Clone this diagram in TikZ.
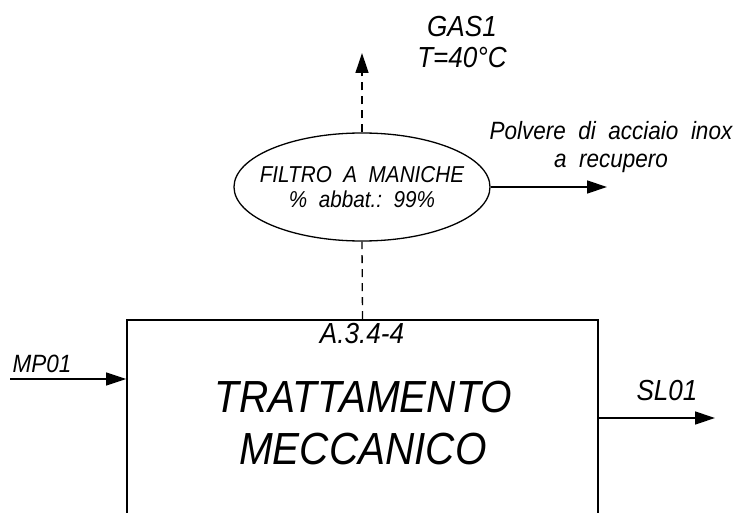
\documentclass[tikz,border=0pt]{standalone}
\usepackage{fontspec}
\setmainfont{Liberation Sans}[FakeStretch=0.9]
\usetikzlibrary{arrows.meta,shapes.geometric,positioning}
\begin{document}
\begin{tikzpicture}[x=1pt, y=-1pt, line width=1.3pt,
  flusso/.style={-{Triangle[length=20pt,width=13pt]}},
  tratteggio/.style={dash pattern=on 8pt off 6pt},
  testo/.style={font=\fontsize{25}{28}\selectfont\itshape, inner sep=0pt, align=center},
  testogr/.style={font=\fontsize{29}{31}\selectfont\itshape, inner sep=0pt, align=center}]

    \clip (0,0) rectangle (741,513);

    % 1. Blocco principale (taglia il bordo inferiore)
    \node[draw, line width=1.7pt, minimum width=471pt, minimum height=240pt, inner sep=0pt] (blocco) at (362.5,440) {};
    \node[font=\fontsize{45}{52}\selectfont\itshape, align=center, inner sep=0pt] (titolo) at (363,423) {TRATTAMENTO\\MECCANICO};
    \node[testogr, anchor=base] (codice) at (362,343) {A.3.4-4};

    % 2. Filtro a maniche (ellisse)
    \node[draw, ellipse, minimum width=256pt, minimum height=108pt, inner sep=0pt] (filtro) at (362,187) {};
    \node[testo, font=\fontsize{23}{25}\selectfont\itshape] (filtrotesto) at (filtro.center) {FILTRO\ \ A\ \ MANICHE\\\%\ \ abbat.:\ \ 99\%};

    % 3. Ingresso MP01
    \coordinate (mpin) at (10,379);
    \draw[flusso] (mpin) -- (mpin -| blocco.west);
    \node[testo, anchor=base west] (mp01) at (12,372) {MP01};

    % 4. Uscita SL01
    \coordinate (slout) at (715,418);
    \draw[flusso] (slout -| blocco.east) -- (slout);
    \node[testogr, anchor=base] (sl01) at (667,400) {SL01};

    % 5. Linea tratteggiata blocco -> filtro -> GAS1
    \draw[tratteggio] (blocco.north) -- (filtro.south);
    \coordinate (gasout) at (362,53);
    \draw[flusso, tratteggio] (filtro.north) -- (gasout);
    \node[testogr] (gas) at (462,42) {GAS1\\T=40°C};

    % 6. Polvere a recupero
    \coordinate (polout) at (607,187);
    \draw[flusso] (filtro.east) -- (polout);
    \node[testo] (polvere) at (611,147) {Polvere\ \ di\ \ acciaio\ \ inox\\a\ \ recupero};

\end{tikzpicture}
\end{document}
